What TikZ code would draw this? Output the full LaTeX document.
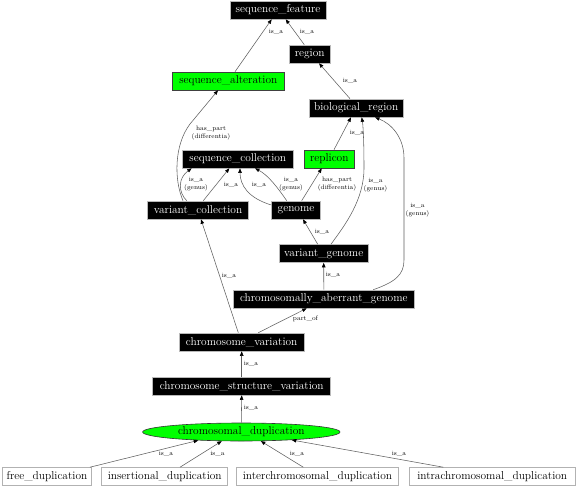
\documentclass[tikz,border=0pt]{standalone}
\usetikzlibrary{arrows.meta,shapes.geometric}
\tikzset{
  boxbase/.style={rectangle, minimum height=18pt, inner sep=0pt, line width=0.6pt, font=\fontsize{11.4}{13}\selectfont},
  blk/.style={boxbase, draw=gray!55, fill=black, text=white},
  grn/.style={boxbase, draw=gray!50!black, fill=green, text=black},
  wht/.style={boxbase, draw=gray!60, fill=white, text=black},
  ell/.style={ellipse, draw=gray!40!black, fill=green, text=black, minimum height=18pt, inner sep=0pt, line width=0.6pt, font=\fontsize{11.4}{13}\selectfont},
  edge/.style={draw=gray!75!black, line width=0.55pt, -{Triangle[length=4.5pt,width=3.5pt,color=black]}},
  lbl/.style={font=\fontsize{6.5}{7.5}\selectfont, inner sep=0pt, align=center, text=black}
}
\begin{document}
\begin{tikzpicture}[x=1pt,y=-1pt]
\useasboundingbox[fill=white] (0,0) rectangle (576,488);

% nodes
\node[blk, minimum width=96pt] (seqf) at (278,10) {sequence\_feature};
\node[blk, minimum width=40.7pt] (region) at (309.7,54) {region};
\node[grn, minimum width=112pt] (seqalt) at (228.3,81) {sequence\_alteration};
\node[blk, minimum width=94.3pt] (bio) at (356.2,108) {biological\_region};
\node[blk, minimum width=111pt] (seqcoll) at (237.8,159) {sequence\_collection};
\node[grn, minimum width=50pt] (replicon) at (329.3,159) {replicon};
\node[blk, minimum width=100.6pt] (varcoll) at (198,210) {variant\_collection};
\node[blk, minimum width=48.6pt] (genome) at (296,210) {genome};
\node[blk, minimum width=89.3pt] (vargen) at (323.7,253.5) {variant\_genome};
\node[blk, minimum width=181pt] (chromab) at (323.8,299) {chromosomally\_aberrant\_genome};
\node[blk, minimum width=124.7pt] (chromvar) at (241.7,342) {chromosome\_variation};
\node[blk, minimum width=178pt] (csv) at (241.7,386) {chromosome\_structure\_variation};
\node[ell, minimum width=197.4pt] (dup) at (241.3,432) {chromosomal\_duplication};
\node[wht, minimum width=89.4pt] (free) at (47,476.5) {free\_duplication};
\node[wht, minimum width=126pt] (ins) at (164.7,476.5) {insertional\_duplication};
\node[wht, minimum width=161.6pt] (inter) at (317.5,476.5) {interchromosomal\_duplication};
\node[wht, minimum width=165.7pt] (intra) at (492.2,476.5) {intrachromosomal\_duplication};

% edges
\draw[edge] ([xshift=6.7pt]seqalt.north) -- ([xshift=-6.3pt]seqf.south)
  node[lbl] (l1) at (276,32) {is\_a};
\draw[edge] ([xshift=-5.4pt]region.north) -- ([xshift=7.7pt]seqf.south)
  node[lbl] (l2) at (307,32) {is\_a};
\draw[edge] ([xshift=-6.2pt]bio.north) -- ([xshift=9.3pt]region.south)
  node[lbl] (l3) at (350,81) {is\_a};
\draw[edge] ([xshift=4.7pt]replicon.north) -- ([xshift=-5.2pt]bio.south)
  node[lbl] (l4) at (357,133) {is\_a};
\draw[edge] ([xshift=7.3pt]vargen.north) .. controls (345,225) and (364,200) .. (364,168)
  .. controls (364,140) and (363,125) .. ([xshift=5.5pt]bio.south)
  node[lbl] (l5) at (375.5,185) {is\_a\\(genus)};
\draw[edge] ([xshift=49.5pt]chromab.north) .. controls (395,282) and (404,275) .. (404,260)
  -- (404,158) .. controls (404,138) and (392,124) .. ([xshift=18.8pt]bio.south)
  node[lbl] (l6) at (417.5,210) {is\_a\\(genus)};
\draw[edge] ([xshift=-15pt]varcoll.north) .. controls (174,180) and (174,145) .. (190,124)
  -- ([xshift=-10.3pt]seqalt.south)
  node[lbl] (l7) at (211,133) {has\_part\\(differentia)};
\draw[edge] ([xshift=-11.3pt]varcoll.north) .. controls (178,192) and (178,178) .. ([xshift=-46.1pt]seqcoll.south)
  node[lbl] (l8) at (196,184) {is\_a\\(genus)};
\draw[edge] ([xshift=5.3pt]varcoll.north) -- ([xshift=-8.5pt]seqcoll.south)
  node[lbl] (l9) at (231,185) {is\_a};
\draw[edge] ([yshift=5pt]genome.west) .. controls (248,198) and (240,185) .. ([xshift=2.2pt]seqcoll.south)
  node[lbl] (l10) at (259,185) {is\_a};
\draw[edge] ([xshift=-9.3pt]genome.north) .. controls (278,188) and (268,175) .. ([xshift=17.2pt]seqcoll.south)
  node[lbl] (l11) at (291,184) {is\_a\\(genus)};
\draw[edge] ([xshift=5.7pt]genome.north) -- ([xshift=-7.6pt]replicon.south)
  node[lbl] (l12) at (337,184) {has\_part\\(differentia)};
\draw[edge] ([xshift=-6pt]vargen.north) -- ([xshift=7pt]genome.south)
  node[lbl] (l13) at (322,231.7) {is\_a};
\draw[edge] (chromab.north) -- (vargen.south)
  node[lbl] (l14) at (333,275) {is\_a};
\draw[edge] ([xshift=-3.4pt]chromvar.north) -- ([xshift=3pt]varcoll.south)
  node[lbl] (l15) at (229,275.7) {is\_a};
\draw[edge] ([xshift=16.6pt]chromvar.north) -- ([xshift=-17.1pt]chromab.south)
  node[lbl] (l16) at (305.5,319.3) {part\_of};
\draw[edge] (csv.north) -- (chromvar.south)
  node[lbl] (l17) at (251,364) {is\_a};
\draw[edge] (dup.north) -- (csv.south)
  node[lbl] (l18) at (251,408.3) {is\_a};
\draw[edge] ([xshift=43pt]free.north) -- (dup.191.5)
  node[lbl] (l19) at (166,454.3) {is\_a};
\draw[edge] ([xshift=15.3pt]ins.north) -- (dup.205.4)
  node[lbl] (l20) at (217.5,454.3) {is\_a};
\draw[edge] ([xshift=-14.2pt]inter.north) -- (dup.335.9)
  node[lbl] (l21) at (297,454.3) {is\_a};
\draw[edge] ([xshift=-48.9pt]intra.north) -- (dup.351.3)
  node[lbl] (l22) at (399,454.3) {is\_a};
\end{tikzpicture}
\end{document}
